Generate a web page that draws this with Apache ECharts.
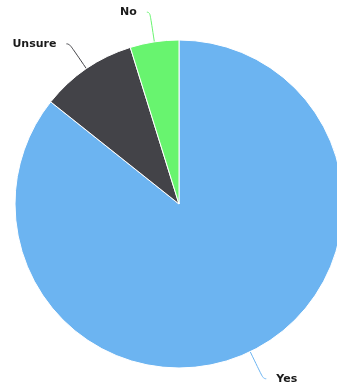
<!DOCTYPE html>
<html>
<head>
<meta charset="utf-8">
<script src="https://cdn.jsdelivr.net/npm/echarts@6/dist/echarts.min.js"></script>
<style>
  html, body { margin: 0; padding: 0; background: #fff; }
  #chart { width: 337px; height: 389px; }
</style>
</head>
<body>
<div id="chart"></div>
<script>
// Answer shares, in slice order clockwise from 12 o'clock
const categories = ['Yes', 'Unsure', 'No'];
const shares = [85.7, 9.5, 4.8];
const sliceColors = ['#6cb4f1', '#434348', '#68f46f'];

const chart = echarts.init(document.getElementById('chart'), null, { renderer: 'canvas' });

chart.setOption({
  animation: false,
  series: [{
    type: 'pie',
    center: [179, 204],
    radius: [0, 164],
    startAngle: 90,
    clockwise: true,
    avoidLabelOverlap: false,
    itemStyle: { borderColor: '#ffffff', borderWidth: 1 },
    label: {
      show: true,
      position: 'outside',
      fontFamily: 'DejaVu Sans',
      fontWeight: 'bold',
      fontSize: 11,
      color: '#1a1a1a',
      padding: [9, 0, 0, 0],
      distanceToLabelLine: 10
    },
    labelLine: {
      show: true,
      length: 30,
      length2: 3,
      smooth: 0.6,
      lineStyle: { width: 1 }
    },
    data: categories.map((name, i) => ({
      name,
      value: shares[i],
      itemStyle: { color: sliceColors[i] }
    }))
  }]
});
</script>
</body>
</html>
